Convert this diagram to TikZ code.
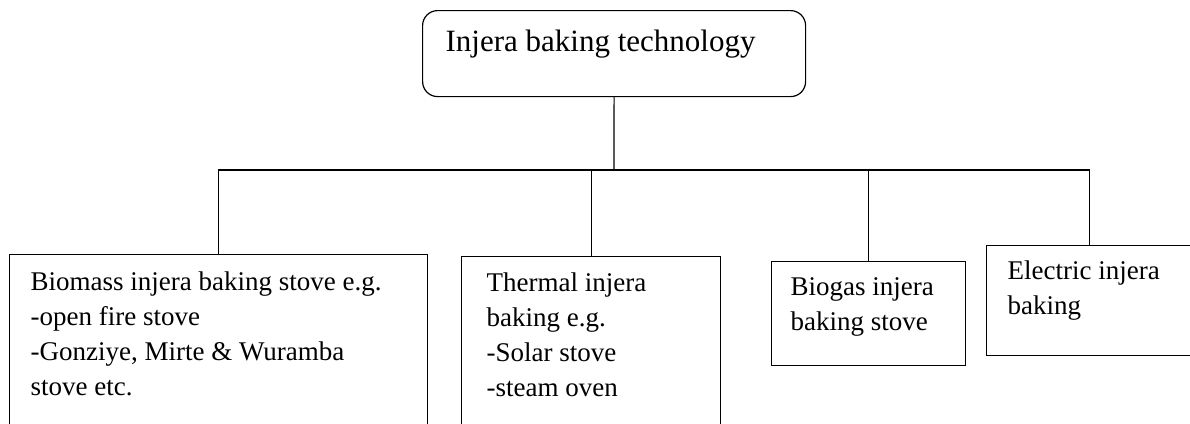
\documentclass[tikz,border=0pt]{standalone}
\usepackage{fontspec}
\setmainfont{Liberation Serif}
\begin{document}
\begin{tikzpicture}[x=1pt,y=-1pt,
  stovebox/.style={draw, line width=1.2pt, anchor=north west, align=flush left, inner ysep=0pt,
    font=\fontsize{27}{35}\selectfont},
  link/.style={line width=1.2pt}]
\useasboundingbox (0,0) rectangle (1190,423);
\clip (0,0) rectangle (1190,423);
\node[stovebox, rounded corners=15pt, inner xsep=23pt, text width=337pt, text height=41pt, text depth=45pt,
  font=\fontsize{31}{38}\selectfont] (tech) at (422,10) {Injera baking technology};
\node[stovebox, inner xsep=21pt, text width=376pt, text height=36pt, text depth=150pt] (biomass) at (9,254)
  {Biomass injera baking stove e.g.\\-open fire stove\\-Gonziye, Mirte \& Wuramba\\stove etc.};
\node[stovebox, inner xsep=25pt, text width=209pt, text height=35pt, text depth=150pt] (thermal) at (461,256)
  {Thermal injera\\baking e.g.\\-Solar stove\\-steam oven};
\node[stovebox, inner xsep=19pt, text width=156pt, text height=34pt, text depth=70pt] (biogas) at (771,261)
  {Biogas injera\\baking stove};
\node[stovebox, inner xsep=21pt, text width=164pt, text height=34pt, text depth=76pt] (electric) at (986,245)
  {Electric injera\\baking};
\coordinate (bus) at (614,170);
\draw[link] (tech.south) -- (bus);
\draw[link] (biomass.north) |- (bus) -| (electric.north);
\draw[link] (thermal.north) -- (thermal.north |- bus);
\draw[link] (biogas.north) -- (biogas.north |- bus);
\end{tikzpicture}
\end{document}
